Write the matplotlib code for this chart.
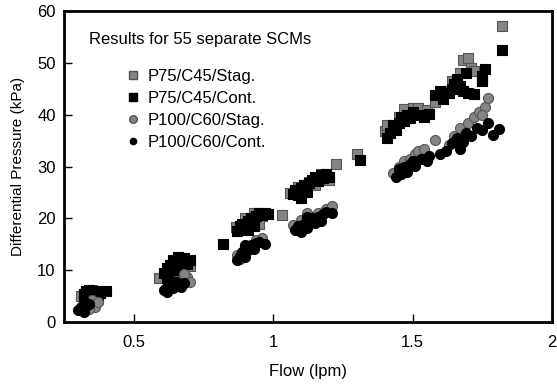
import matplotlib
matplotlib.use("Agg")
import matplotlib.pyplot as plt
from matplotlib.lines import Line2D

plt.rcParams['font.family'] = ['Liberation Sans', 'DejaVu Sans']

labels = ["P75/C45/Stag.", "P75/C45/Cont.", "P100/C60/Stag.", "P100/C60/Cont."]

# P75/C45/Stag. (grey squares)
a_flow = [0.31, 0.32, 0.33, 0.35, 0.36, 0.37, 0.34,
          0.59, 0.62, 0.64, 0.67, 0.70, 0.66,
          0.865, 0.90, 0.93, 0.96, 1.03, 0.95,
          1.06, 1.09, 1.13, 1.17, 1.20, 1.225, 1.30, 1.15,
          1.40, 1.41, 1.43, 1.45, 1.47, 1.50, 1.52, 1.55, 1.58, 1.60, 1.62, 1.64,
          1.67, 1.68, 1.70, 1.71, 1.72, 1.82]
a_dp = [5.0, 4.3, 5.8, 6.2, 5.5, 4.5, 5.2,
        8.6, 10.0, 11.5, 12.2, 10.8, 9.5,
        18.3, 20.0, 21.0, 20.5, 20.6, 19.0,
        25.0, 26.0, 27.0, 28.5, 27.5, 30.5, 32.5, 26.5,
        36.8, 38.0, 37.5, 39.5, 41.2, 41.3, 41.3, 41.0, 42.5, 43.8, 44.5, 46.5,
        48.0, 50.5, 51.0, 49.0, 48.5, 57.2]

# P75/C45/Cont. (black squares)
b_flow = [0.32, 0.33, 0.34, 0.35, 0.36, 0.37, 0.38, 0.33, 0.40,
          0.61, 0.62, 0.63, 0.64, 0.65, 0.66, 0.67, 0.68, 0.69, 0.70, 0.64, 0.62, 0.66,
          0.82, 0.87, 0.88, 0.89, 0.90, 0.91, 0.92, 0.93, 0.94, 0.95, 0.96, 0.97, 0.98, 0.91, 0.93,
          1.07, 1.08, 1.09, 1.10, 1.11, 1.12, 1.13, 1.14, 1.15, 1.16, 1.17, 1.18, 1.19, 1.20, 1.10, 1.31,
          1.41, 1.42, 1.43, 1.44, 1.45, 1.46, 1.47, 1.48, 1.49, 1.50, 1.52, 1.54, 1.56,
          1.58, 1.60, 1.61, 1.63, 1.64, 1.65, 1.66, 1.67, 1.68, 1.70, 1.72, 1.69, 1.75, 1.76, 1.75, 1.82]
b_dp = [5.5, 6.0, 6.3, 5.8, 6.0, 5.2, 5.6, 4.8, 6.0,
        9.5, 10.5, 11.0, 12.0, 11.5, 12.5, 11.8, 12.3, 11.2, 12.0, 9.8, 8.6, 10.5,
        15.0, 17.5, 18.5, 19.0, 18.0, 19.5, 20.0, 19.2, 20.5, 21.0, 20.6, 21.0, 20.8, 17.8, 18.5,
        24.8, 25.5, 24.5, 25.8, 26.5, 25.2, 26.8, 27.5, 28.0, 27.2, 28.3, 27.8, 28.5, 28.0, 24.0, 31.2,
        35.5, 36.5, 38.0, 37.0, 38.5, 39.5, 38.8, 40.0, 39.3, 40.5, 40.0, 39.5, 40.2,
        43.8, 44.5, 43.0, 44.2, 45.0, 46.0, 47.0, 45.5, 44.5, 44.2, 44.0, 48.0, 47.5, 48.8, 46.5, 52.5]

# P100/C60/Stag. (grey circles)
c_flow = [0.33, 0.35, 0.36, 0.37, 0.34,
          0.65, 0.67, 0.69, 0.70, 0.68,
          0.87, 0.90, 0.93, 0.96, 0.94, 0.88,
          1.07, 1.10, 1.13, 1.16, 1.19, 1.21, 1.12,
          1.43, 1.45, 1.47, 1.49, 1.51, 1.52, 1.54, 1.58, 1.63, 1.65, 1.67, 1.70,
          1.72, 1.74, 1.76, 1.77, 1.75]
c_dp = [3.5, 4.2, 3.0, 3.8, 2.6,
        8.0, 7.5, 8.7, 7.8, 9.3,
        13.0, 14.0, 15.0, 16.3, 15.8, 12.2,
        18.8, 19.8, 20.5, 21.0, 21.8, 22.5, 21.0,
        28.8, 30.0, 31.0, 31.5, 32.5, 33.0, 33.5, 35.2, 34.2, 36.0, 37.5, 38.5,
        39.5, 40.5, 41.5, 43.2, 40.0]

# P100/C60/Cont. (black circles)
d_flow = [0.30, 0.31, 0.32, 0.33, 0.34, 0.32,
          0.61, 0.62, 0.63, 0.64, 0.65, 0.66, 0.67, 0.68, 0.63, 0.62,
          0.87, 0.88, 0.89, 0.90, 0.91, 0.92, 0.93, 0.94, 0.95, 0.97, 0.90,
          1.08, 1.09, 1.10, 1.11, 1.12, 1.13, 1.14, 1.15, 1.16, 1.17, 1.18, 1.19, 1.21, 1.12,
          1.44, 1.45, 1.46, 1.47, 1.48, 1.49, 1.50, 1.51, 1.53, 1.55, 1.56, 1.60,
          1.62, 1.64, 1.66, 1.68, 1.69, 1.71, 1.73, 1.75, 1.77, 1.79, 1.81, 1.67]
d_dp = [2.3, 3.0, 2.0, 3.2, 3.6, 4.0,
        6.2, 6.8, 7.3, 6.6, 7.8, 7.0, 6.7, 7.5, 8.0, 5.8,
        12.0, 12.8, 13.5, 12.6, 14.0, 14.8, 14.2, 15.2, 15.5, 15.0, 14.8,
        17.8, 18.5, 17.4, 19.0, 18.2, 19.5, 20.0, 19.2, 20.2, 19.6, 20.8, 21.2, 21.0, 20.2,
        28.0, 29.5, 28.5, 30.0, 29.0, 30.5, 31.0, 30.2, 31.5, 31.0, 32.0, 32.5,
        33.0, 34.5, 35.5, 34.8, 36.5, 36.0, 37.5, 37.0, 38.5, 36.2, 37.3, 33.5]

x_ticks = [0.5, 1, 1.5, 2]
x_tick_labels = ["0.5", "1", "1.5", "2"]
y_ticks = [0, 10, 20, 30, 40, 50, 60]

grey = "#858585"
FS = 12
fig = plt.figure(figsize=(5.57, 3.84), dpi=100)
ax = fig.add_axes([0.115, 0.161, 0.876, 0.81])

ax.scatter(a_flow, a_dp, marker='s', s=52, c=grey, edgecolors='#555555', linewidths=0.8, zorder=3)
ax.scatter(b_flow, b_dp, marker='s', s=52, c='black', edgecolors='black', linewidths=0.8, zorder=3)
ax.scatter(c_flow, c_dp, marker='o', s=52, c=grey, edgecolors='#555555', linewidths=0.8, zorder=3)
ax.scatter(d_flow, d_dp, marker='o', s=52, c='black', edgecolors='black', linewidths=0.8, zorder=3)

ax.set_xlim(0.25, 2.0)
ax.set_ylim(0, 60)
ax.set_xticks(x_ticks)
ax.set_xticklabels(x_tick_labels)
ax.set_yticks(y_ticks)
ax.tick_params(direction='in', length=6, width=1, labelsize=FS, pad=9, colors='black')
ax.tick_params(axis='y', pad=6)
for sp in ax.spines.values():
    sp.set_linewidth(2)
ax.set_xlabel("Flow (lpm)", fontsize=FS, labelpad=10)
ax.set_ylabel("Differential Pressure (kPa)", fontsize=11, labelpad=9)

ax.text(0.051, 0.91, "Results for 55 separate SCMs", transform=ax.transAxes,
        fontsize=FS, ha='left', va='center')

handles = [
    Line2D([], [], marker='s', ls='none', markersize=6, markerfacecolor=grey, markeredgecolor='#555555'),
    Line2D([], [], marker='s', ls='none', markersize=6, markerfacecolor='black', markeredgecolor='black'),
    Line2D([], [], marker='o', ls='none', markersize=5.5, markerfacecolor=grey, markeredgecolor='#555555'),
    Line2D([], [], marker='o', ls='none', markersize=4.5, markerfacecolor='black', markeredgecolor='black'),
]
ax.legend(handles, labels, loc='upper left', bbox_to_anchor=(0.124, 0.815), frameon=False,
          fontsize=FS, handlelength=1.0, handletextpad=0.4, labelspacing=0.42,
          borderaxespad=0, borderpad=0)

fig.savefig("out.png", dpi=100)
